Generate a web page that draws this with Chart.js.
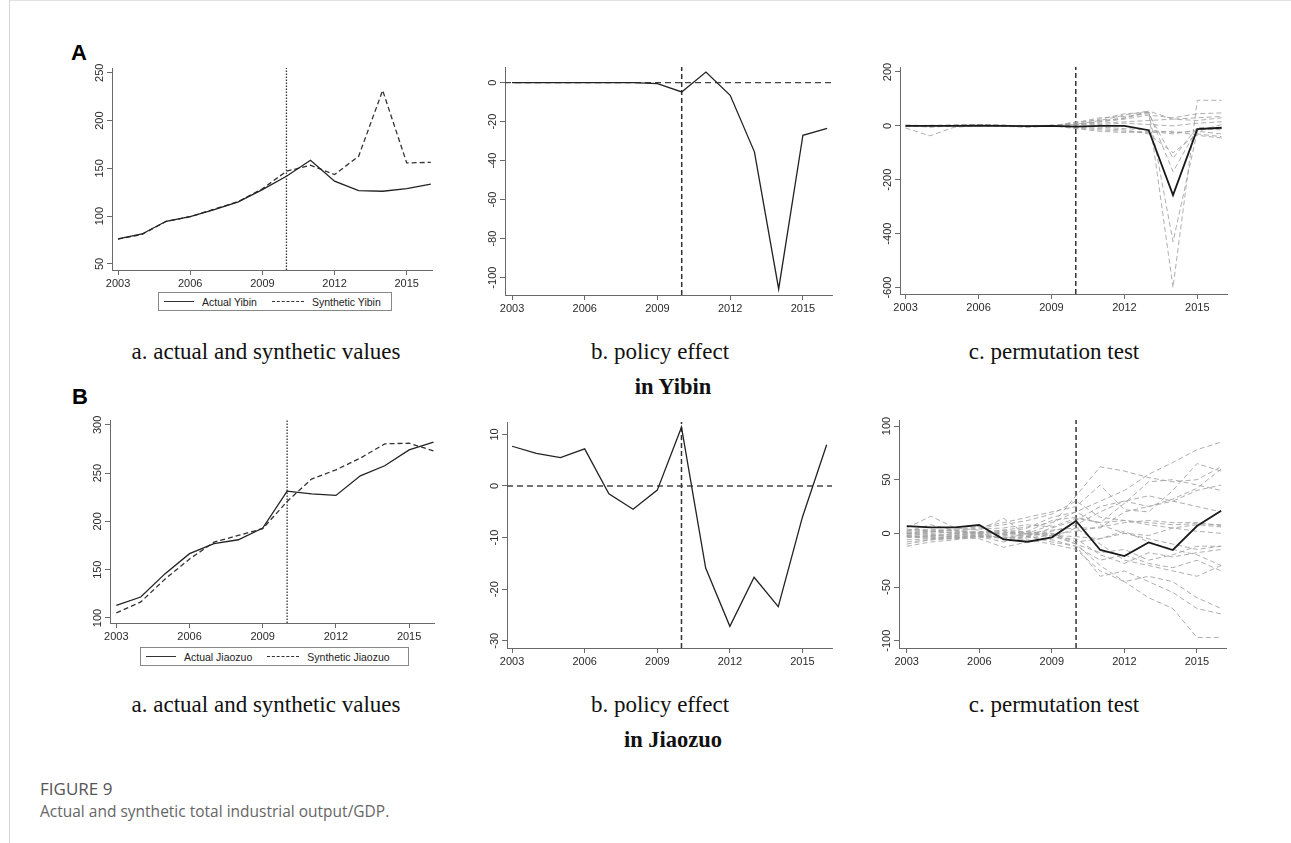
<!DOCTYPE html>
<html>
<head>
<meta charset="utf-8">
<script src="https://cdn.jsdelivr.net/npm/chart.js@4.4.1/dist/chart.umd.min.js"></script>
<style>
  body { margin: 0; background: #fff; }
  #page { position: relative; width: 1291px; height: 843px; overflow: hidden; font-family: "Liberation Sans", Arial, sans-serif; }
  #frame { position: absolute; left: 9px; top: 0; width: 1290px; height: 843px; border-left: 1px solid #d4d4d4; border-top: 1px solid #e2e2e2; }
  canvas { position: absolute; }
  .sub { position: absolute; width: 400px; text-align: center; font-family: "Liberation Serif", "Times New Roman", serif; font-size: 23px; line-height: 23px; color: #111; white-space: nowrap; }
  .sub.bold { font-weight: bold; font-size: 22.5px; }
  .tag { position: absolute; font-family: "Liberation Sans", Arial, sans-serif; font-weight: bold; font-size: 22px; line-height: 22px; color: #000; }
  .legend { position: absolute; border: 1px solid #888; box-sizing: border-box; display: flex; align-items: center; font-size: 10.5px; color: #222; padding-left: 5px; white-space: nowrap; }
  .legend .sw { display: inline-block; width: 30px; border-top: 1.3px solid #333; margin-right: 8px; }
  .legend .sw.dash { border-top-style: dashed; width: 32px; margin-left: 15px; }
  #figno { position: absolute; left: 40px; top: 777px; font-family: "Open Sans", sans-serif; font-size: 17px; color: #555; }
  #caption { position: absolute; left: 40px; top: 800px; font-family: "Open Sans", sans-serif; font-size: 15.5px; color: #666; }
</style>
</head>
<body>
<div id="page">
  <div id="frame"></div>
  <div class="tag" style="left:71px; top:42px;">A</div>
  <div class="tag" style="left:72px; top:386px;">B</div>

  <div class="legend" style="left:158px; top:292px; width:234px; height:19px;">
    <span class="sw"></span>Actual Yibin<span class="sw dash"></span>Synthetic Yibin
  </div>
  <div class="legend" style="left:140px; top:647px; width:269px; height:19px;">
    <span class="sw"></span>Actual Jiaozuo<span class="sw dash"></span>Synthetic Jiaozuo
  </div>

  <div class="sub" style="left:66px; top:340px;">a. actual and synthetic values</div>
  <div class="sub" style="left:460px; top:340px;">b. policy effect</div>
  <div class="sub bold" style="left:473px; top:375px;">in Yibin</div>
  <div class="sub" style="left:854px; top:340px;">c. permutation test</div>

  <div class="sub" style="left:66px; top:693px;">a. actual and synthetic values</div>
  <div class="sub" style="left:460px; top:693px;">b. policy effect</div>
  <div class="sub bold" style="left:473px; top:728px;">in Jiaozuo</div>
  <div class="sub" style="left:854px; top:693px;">c. permutation test</div>

  <div id="figno">FIGURE 9</div>
  <div id="caption">Actual and synthetic total industrial output/GDP.</div>
</div>

<script>
const years = [2003, 2004, 2005, 2006, 2007, 2008, 2009, 2010, 2011, 2012, 2013, 2014, 2015, 2016];
const xTicks = [2003, 2006, 2009, 2012, 2015];
const treatYear = 2010;

// Yibin
const yibinActual = [76.2, 81.4, 94.7, 99.6, 106.9, 114.9, 127.8, 141.8, 158.5, 136.6, 126.8, 126.1, 128.9, 133.5];
const yibinSynthetic = [76, 81, 94.5, 99.5, 107.3, 115.3, 128.6, 147, 153.3, 143.5, 162.7, 231.5, 155.7, 156.3];
const yibinEffect = [0, 0, 0, 0, 0, 0, -0.5, -4.8, 5.4, -6.5, -35.5, -105.8, -27, -23.5];
const yibinPermActual = [0, 0, 0, 1, 0, -1, 0, -3, 0, 0, -16, -257, -12, -7];
const yibinPlacebo = [
  [2, -5, 0, 3, 2, 0, 1, 3, 15, 30, 50, -600, 95, 95],
  [-8, -37, -5, 0, 2, -2, 0, 5, 20, 40, 55, -430, -20, -30],
  [0, 2, 3, 4, 0, -2, 0, 10, 25, 45, 50, -170, -10, -15],
  [3, 0, 2, 5, 3, -3, 1, 12, 30, 35, 45, -120, -5, -10],
  [0, -3, -1, 2, 1, 0, 2, -5, -10, -15, -30, -100, -30, -40],
  [-2, 0, 1, 3, 0, -5, -1, 8, 15, 25, 40, 30, 45, 48],
  [1, -1, 0, 2, 0, -3, 3, -8, -15, -20, -25, -20, -35, -45],
  [0, 2, 0, 4, 2, 0, -1, 15, 20, 28, 55, 25, 30, 35],
  [-3, 0, 2, 1, -2, -4, 0, -10, -20, -25, -20, -30, -15, -10],
  [2, 1, 3, 5, 1, -2, 2, 5, 10, 15, 20, 25, 20, 30],
  [-1, -2, 0, 2, 0, -1, 0, -3, -5, -10, -15, -25, -20, 5],
  [0, 0, 1, 3, 1, -2, 1, 3, 5, 10, 5, 0, 10, 15]
];

// Jiaozuo
const jiaozuoActual = [113.1, 121.7, 145.9, 166.6, 177, 181, 193.1, 231.4, 228.6, 226.9, 247.2, 257.6, 274.1, 282];
const jiaozuoSynthetic = [105.2, 116.6, 140.4, 161, 178.5, 185.5, 192.5, 220.7, 243.8, 253.4, 265.5, 280.3, 281, 273];
const jiaozuoEffect = [7.7, 6.3, 5.5, 7.2, -1.5, -4.5, -0.8, 11.4, -15.9, -27.2, -17.7, -23.4, -6, 8];
const jiaozuoPermActual = [6.8, 5.6, 5.6, 7.8, -5.6, -7.8, -3.7, 11.5, -15.5, -21.1, -8.4, -15.5, 6.8, 21.1];
const jiaozuoPlacebo = [
  [2, 8, 3, 0, -5, 0, 8, 35, 62, 58, 52, 48, 50, 62],
  [-3, -5, -2, 1, 3, 6, 10, 20, 30, 40, 55, 66, 78, 85],
  [0, 2, 4, 6, 10, 15, 20, 25, 45, 22, 20, 40, 65, 58],
  [-2, -3, 0, 2, -1, 2, 12, 15, 10, 28, 48, 50, 45, 40],
  [5, 16, 5, 3, 14, -2, 5, 12, 25, 30, 35, 30, 40, 45],
  [-10, -6, -4, -2, -5, -3, -8, -12, -40, -35, -45, -55, -70, -75],
  [-12, -8, -6, -3, -8, -4, -2, -10, -30, -45, -60, -70, -97, -97],
  [0, -2, -3, -5, -13, -8, -4, 5, -10, -25, -30, -35, -40, -30],
  [3, 4, 2, 1, 0, 5, 15, 20, 8, 0, -5, -10, -15, -12],
  [-1, 0, 1, 0, 2, -3, -6, -12, -25, -20, -28, -32, -25, -35],
  [2, 3, 2, 4, 5, 8, 6, 14, 10, 12, 10, 8, 9, 8],
  [-6, -5, -4, -3, -2, -1, -2, -3, -5, 0, -2, 5, 8, 6],
  [1, 2, 0, -2, -1, 0, 3, 5, 5, 20, 25, 30, 25, 20],
  [-4, -3, -5, -1, 0, 2, -4, -5, -20, -28, -18, -22, -18, -15],
  [0, 1, 3, 5, 8, 12, 18, 30, 15, 12, 8, 5, 2, 0],
  [-8, -6, -5, -4, -3, -6, -10, -15, -35, -45, -40, -45, -60, -70],
  [4, 2, 0, 1, 3, 1, 0, -8, -5, 2, -8, -15, -20, -30],
  [-3, -2, -1, 0, 1, 0, -1, 2, 6, 10, 12, 10, 10, 7],
  [0, -1, -2, -3, -4, -2, 0, -10, -18, -15, -25, -20, -12, -12],
  [-2, -4, -3, -1, -5, -3, 2, 8, 20, 30, 25, 32, 42, 60]
];

// y tick labels per panel
const yTicksYibinA = [50, 100, 150, 200, 250];
const yTicksYibinB = [0, -20, -40, -60, -80, -100];
const yTicksYibinC = [200, 0, -200, -400, -600];
const yTicksJiaozuoA = [100, 150, 200, 250, 300];
const yTicksJiaozuoB = [10, 0, -10, -20, -30];
const yTicksJiaozuoC = [100, 50, 0, -50, -100];

const AXIS = "#6a6a6a";
const TICK_FONT = '11px "Liberation Sans", Arial, sans-serif';

// y labels are turned 90 degrees, like the Stata output
const rotatedYLabels = {
  id: "rotatedYLabels",
  afterDraw(chart) {
    const s = chart.scales.y;
    const ctx = chart.ctx;
    ctx.save();
    ctx.font = TICK_FONT;
    ctx.fillStyle = "#2a2a2a";
    ctx.textAlign = "center";
    ctx.textBaseline = "middle";
    s.ticks.forEach((t) => {
      const y = s.getPixelForValue(t.value);
      ctx.save();
      ctx.translate(s.right - 12, y);
      ctx.rotate(-Math.PI / 2);
      ctx.fillText(String(t.value), 0, 0);
      ctx.restore();
    });
    ctx.restore();
  },
};

function series(vals, color, width, dash) {
  return {
    data: years.map((x, i) => ({ x, y: vals[i] })),
    borderColor: color,
    borderWidth: width,
    borderDash: dash || [],
    pointRadius: 0,
    fill: false,
    tension: 0,
  };
}

function segment(points, color, width, dash) {
  return { data: points, borderColor: color, borderWidth: width, borderDash: dash, pointRadius: 0, fill: false, tension: 0 };
}

const Y_W = 40, X_H = 26, PAD_T = 8, PAD_R = 12;

function makePanel(area, xRange, yRange, yTicks, datasets) {
  const [l, t, r, b] = area;
  const canvas = document.createElement("canvas");
  const w = r - l + Y_W + PAD_R;
  const h = b - t + PAD_T + X_H;
  canvas.width = w;
  canvas.height = h;
  canvas.style.left = l - Y_W + "px";
  canvas.style.top = t - PAD_T + "px";
  canvas.style.width = w + "px";
  canvas.style.height = h + "px";
  document.getElementById("page").appendChild(canvas);

  new Chart(canvas, {
    type: "line",
    data: { datasets },
    options: {
      responsive: false,
      animation: false,
      devicePixelRatio: 1,
      layout: { padding: { top: PAD_T, right: PAD_R, left: 0, bottom: 0 } },
      plugins: { legend: { display: false }, tooltip: { enabled: false } },
      scales: {
        x: {
          type: "linear",
          min: xRange[0],
          max: xRange[1],
          afterBuildTicks: (axis) => { axis.ticks = xTicks.map((v) => ({ value: v })); },
          afterFit: (axis) => { axis.height = X_H; },
          ticks: { color: "#2a2a2a", font: { family: '"Liberation Sans", Arial, sans-serif', size: 11 }, padding: 2, maxRotation: 0, autoSkip: false, callback: (v) => String(v) },
          grid: { display: true, drawOnChartArea: false, drawTicks: true, tickLength: 5, color: AXIS },
          border: { display: true, color: AXIS, width: 1 },
        },
        y: {
          type: "linear",
          min: yRange[0],
          max: yRange[1],
          afterBuildTicks: (axis) => { axis.ticks = yTicks.map((v) => ({ value: v })); },
          afterFit: (axis) => { axis.width = Y_W; },
          ticks: { display: false },
          grid: { display: true, drawOnChartArea: false, drawTicks: true, tickLength: 5, color: AXIS },
          border: { display: true, color: AXIS, width: 1 },
        },
      },
    },
    plugins: [rotatedYLabels],
  });
}

function treatLine(yRange, dash, width) {
  return segment([{ x: treatYear, y: yRange[0] }, { x: treatYear, y: yRange[1] }], "#333", width, dash);
}
function zeroLine(xRange) {
  return segment([{ x: xRange[0], y: 0 }, { x: xRange[1], y: 0 }], "#444", 1.4, [6, 4]);
}
const GRAY = "rgba(160,160,160,0.85)";

// Row A: Yibin
const xAa = [2002.75, 2016.05], yAa = [43.7, 255];
makePanel([112, 68, 432, 270], xAa, yAa, yTicksYibinA, [
  series(yibinActual, "#222", 1.3),
  series(yibinSynthetic, "#333", 1.3, [5, 3]),
  treatLine(yAa, [1.5, 1.5], 1.3),
]);

const xAb = [2002.71, 2016.2], yAb = [-108.9, 8];
makePanel([505, 67, 832, 295], xAb, yAb, yTicksYibinB, [
  series(yibinEffect, "#222", 1.3),
  zeroLine(xAb),
  treatLine(yAb, [5, 3], 1.5),
]);

const xAc = [2002.77, 2016.22], yAc = [-624, 218.5];
makePanel([900, 67, 1227, 294], xAc, yAc, yTicksYibinC, [
  series(yibinPermActual, "#1a1a1a", 1.8),
  ...yibinPlacebo.map((p) => series(p, GRAY, 1, [5, 3])),
  treatLine(yAc, [5, 3], 1.5),
]);

// Row B: Jiaozuo
const xBa = [2002.74, 2016.02], yBa = [94.8, 305];
makePanel([110, 420, 434, 623], xBa, yBa, yTicksJiaozuoA, [
  series(jiaozuoActual, "#222", 1.3),
  series(jiaozuoSynthetic, "#333", 1.3, [5, 3]),
  treatLine(yBa, [1.5, 1.5], 1.3),
]);

const xBb = [2002.79, 2016.22], yBb = [-31.4, 12.4];
makePanel([507, 422, 832, 648], xBb, yBb, yTicksJiaozuoB, [
  series(jiaozuoEffect, "#222", 1.3),
  zeroLine(xBb),
  treatLine(yBb, [5, 3], 1.5),
]);

const xBc = [2002.68, 2016.2], yBc = [-106.8, 105.6];
makePanel([899, 420, 1226, 648], xBc, yBc, yTicksJiaozuoC, [
  series(jiaozuoPermActual, "#1a1a1a", 1.8),
  ...jiaozuoPlacebo.map((p) => series(p, GRAY, 1, [5, 3])),
  treatLine(yBc, [5, 3], 1.5),
]);
</script>
</body>
</html>
